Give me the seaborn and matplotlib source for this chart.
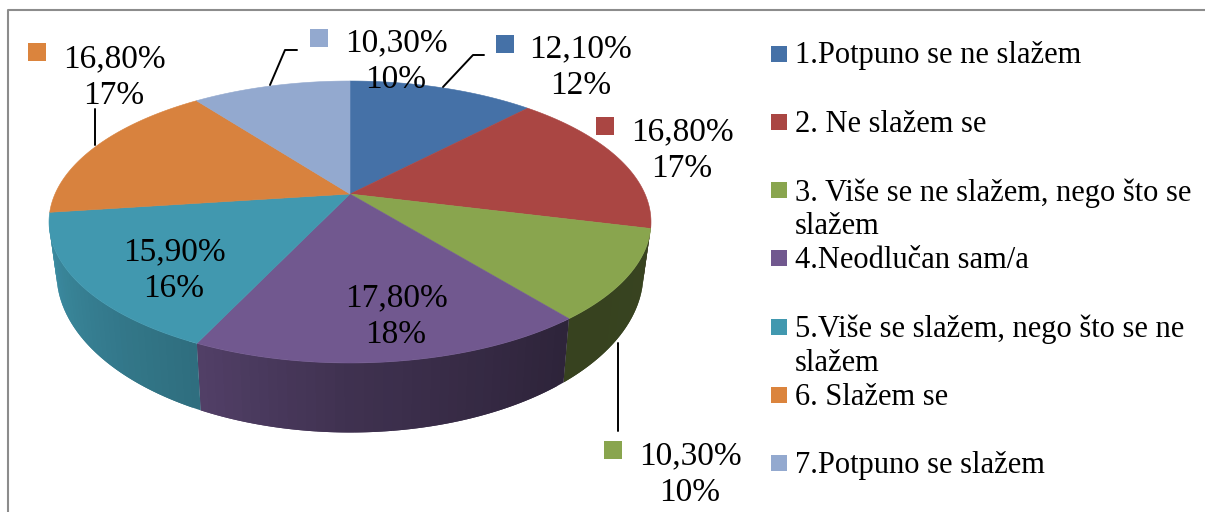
import numpy as np
import matplotlib
matplotlib.use("Agg")
import matplotlib.pyplot as plt
import seaborn as sns

categories = ["1.Potpuno se ne slažem", "2. Ne slažem se",
              "3. Više se ne slažem, nego što se\nslažem", "4.Neodlučan sam/a",
              "5.Više se slažem, nego što se ne\nslažem", "6. Slažem se",
              "7.Potpuno se slažem"]
shares = [12.1, 16.8, 10.3, 17.8, 15.9, 16.8, 10.3]
value_labels = ["12,10%", "16,80%", "10,30%", "17,80%", "15,90%", "16,80%", "10,30%"]
pct_labels = ["12%", "17%", "10%", "18%", "16%", "17%", "10%"]
colors = ["#4571A7", "#AA4643", "#89A54E", "#71588F", "#4198AF", "#D8823E", "#93A9CF"]
legend_colors = ["#4571A7", "#AA4643", "#89A54E", "#71588F", "#4198AF", "#DB843D", "#93A9CF"]

# label layout: (text centre x, text centre y, marker centre x, marker centre y)
label_pos = [(581, 67, 505, 44), (682, 150, 605, 126), (690, 474, 613, 450),
             (396, 316, 319, 292), (174, 270, 97, 246), (114, 77, 37, 52),
             (396, 61, 319, 38)]
leaders = [[(443, 87), (473, 55), (484, 55)], None, [(618, 343), (618, 431)],
           None, None, [(95, 145), (95, 109)], [(270, 85), (285, 50), (297, 50)]]

# pie projection (perspective of a tilted disc)
CX, CY, KX, B, C = 350, 194, 295, -96.9, 0.1986
WALL_FROM, WALL_TO = 101.5, 258.5


def top(theta):
    t = np.radians(theta)
    x, y = np.sin(t), np.cos(t)
    d = 1 + C * y
    return CX + KX * x / d, (CY + B * y) / d


def bottom(theta):
    x, y = top(theta)
    return CX + 0.975 * (x - CX), y + 50 + 0.13 * (y - 213)


def shade(theta):
    return np.interp(theta, [100, 141, 180, 205, 262], [0.41, 0.40, 0.56, 0.72, 0.95])


sns.set_theme(style="white")
plt.rcParams["font.family"] = ["Liberation Serif", "DejaVu Serif"]
palette = sns.color_palette(colors)
legend_palette = sns.color_palette(legend_colors)

fig = plt.figure(figsize=(12.05, 5.12), dpi=100, facecolor="white")
ax = fig.add_axes([0, 0, 1, 1])
ax.set_xlim(0, 1205)
ax.set_ylim(512, 0)
ax.axis("off")

# frame
ax.plot([8, 8, 1205], [512, 9.5, 9.5], color="#8c8c8c", lw=1.5, solid_capstyle="butt", zorder=1)

edges = 3.6 * np.concatenate([[0], np.cumsum(shares)])

# side wall: each strip runs on under the next one, which hides the seams
for i, col in enumerate(palette):
    lo, hi = max(edges[i], WALL_FROM), min(edges[i + 1], WALL_TO)
    if hi <= lo:
        continue
    steps = np.linspace(lo, hi, max(int((hi - lo) / 1.5), 2) + 1)
    for j in range(len(steps) - 1):
        end = steps[min(j + 2, len(steps) - 1)]
        th = np.linspace(steps[j], end, 6)
        xt, yt = top(th)
        xb, yb = bottom(th)
        c = tuple(np.array(col) * shade((steps[j] + steps[j + 1]) / 2))
        ax.fill(np.r_[xt, xb[::-1]], np.r_[yt, yb[::-1]], color=c, lw=0, zorder=2)

# top face
for i, col in enumerate(palette):
    th = np.linspace(edges[i], edges[i + 1], 120)
    x, y = top(th)
    ax.fill(np.r_[CX, x], np.r_[CY, y], color=col, lw=0.4, zorder=3)

# leader lines
for pts in leaders:
    if pts is not None:
        xs, ys = zip(*pts)
        ax.plot(xs, ys, color="black", lw=1.4, zorder=4)

# data labels
for i, (tx, ty, mx, my) in enumerate(label_pos):
    ax.scatter([mx], [my], marker="s", s=150, color=[legend_palette[i]], linewidths=0, zorder=5)
    ax.text(tx, ty, f"{value_labels[i]}\n{pct_labels[i]}", ha="center", va="center",
            fontsize=24, linespacing=1.27, color="black", zorder=6)

# legend
for i, label in enumerate(categories):
    y = 53.5 + i * 68.3
    ax.scatter([779], [y], marker="s", s=130, color=[legend_palette[i]], linewidths=0, zorder=5)
    ax.text(795, y - 12, label, ha="left", va="top", fontsize=22, linespacing=1.2,
            color="black", zorder=6)

fig.savefig("out.png", dpi=100, facecolor="white")
